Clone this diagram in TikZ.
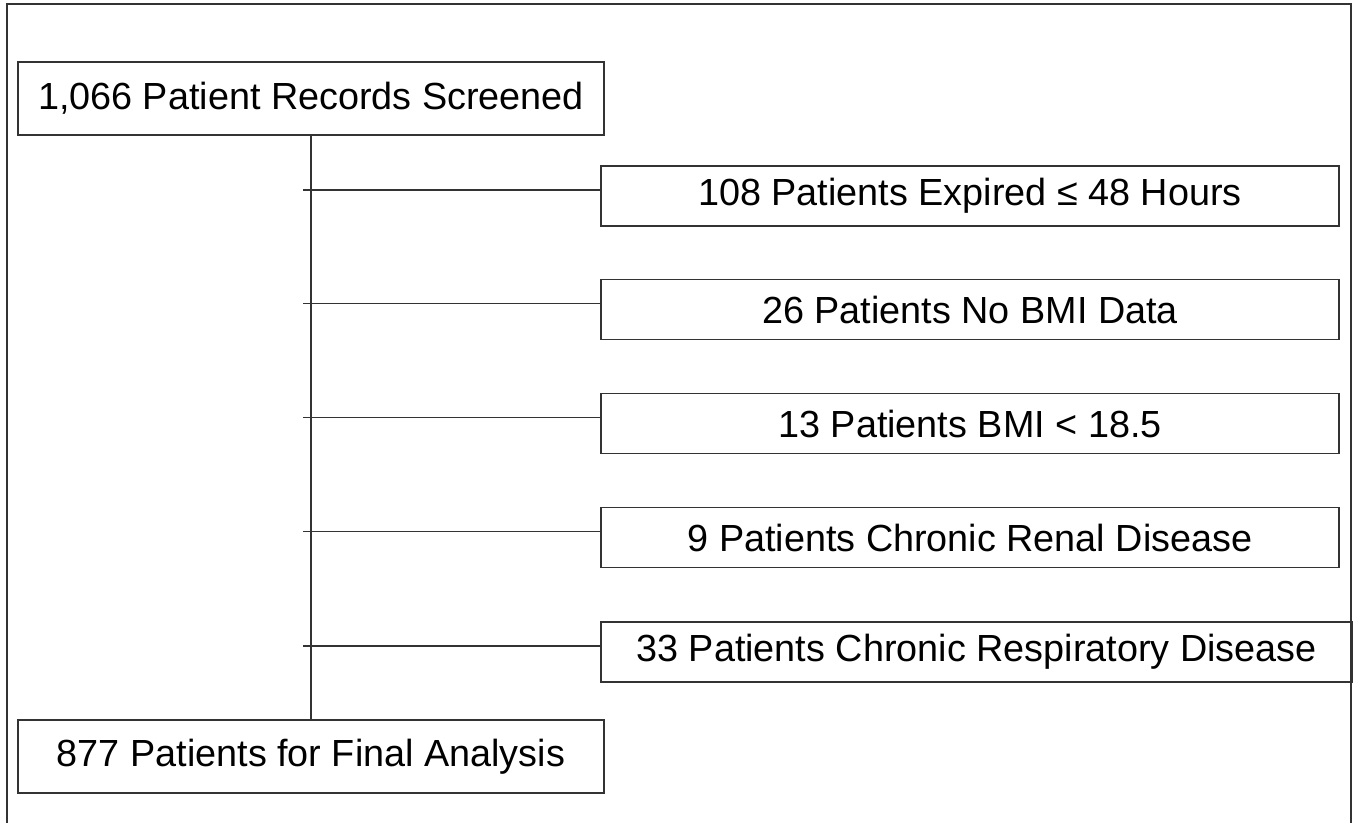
\documentclass[tikz,border=0pt]{standalone}
\usepackage{fontspec}
\setmainfont{Liberation Sans}
\begin{document}
\begin{tikzpicture}[x=0.02cm, y=-0.02cm, line width=1.1pt, draw=black!80,
    every node/.style={font=\fontsize{21.5}{24}\selectfont},
    mainbox/.style={draw=black!80, minimum width=11.72cm, minimum height=1.46cm, inner sep=0pt},
    exclbox/.style={draw=black!80, minimum width=14.76cm, minimum height=1.2cm, inner sep=0pt}]
    \useasboundingbox (0,0) rectangle (1354,822);
    \draw[black!80] (7,830) -- (7,4) -- (1351,4) -- (1351,830);

    \node[mainbox] (screened) at (311,98.5) {1,066 Patient Records Screened};
    \node[mainbox] (final) at (311,756.5) {877 Patients for Final Analysis};

    \node[exclbox] (expired) at (970,196) {108 Patients Expired ≤ 48 Hours};
    \node[exclbox] (nobmi) at (970,309.5) {26 Patients No BMI Data};
    \node[exclbox] (lowbmi) at (970,423.5) {13 Patients BMI < 18.5};
    \node[exclbox] (renal) at (970,537.5) {9 Patients Chronic Renal Disease};
    \node[exclbox, minimum width=15.02cm] (resp) at (976.5,652) {33 Patients Chronic Respiratory Disease};

    \draw[black!80] (screened.south) -- (final.north);
    \draw[black!80] ([yshift=0.12cm]expired.west) -- ([yshift=0.12cm]expired.west -| screened.south) -- ++(-8,0);
    \draw[black!80] ([yshift=0.12cm]nobmi.west) -- ([yshift=0.12cm]nobmi.west -| screened.south) -- ++(-8,0);
    \draw[black!80] ([yshift=0.12cm]lowbmi.west) -- ([yshift=0.12cm]lowbmi.west -| screened.south) -- ++(-8,0);
    \draw[black!80] ([yshift=0.12cm]renal.west) -- ([yshift=0.12cm]renal.west -| screened.south) -- ++(-8,0);
    \draw[black!80] ([yshift=0.12cm]resp.west) -- ([yshift=0.12cm]resp.west -| screened.south) -- ++(-8,0);
\end{tikzpicture}
\end{document}
